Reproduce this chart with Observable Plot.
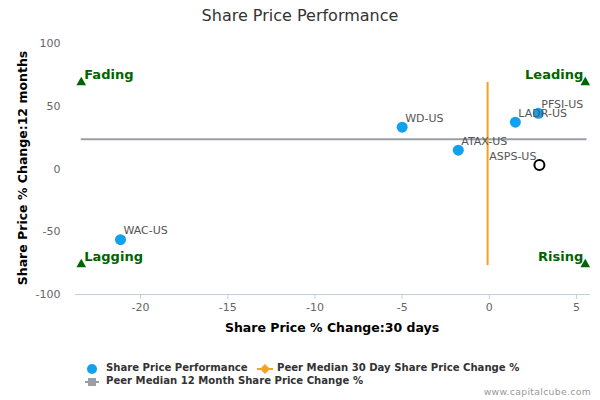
<!DOCTYPE html>
<html>
<head>
<meta charset="utf-8">
<script src="https://cdn.jsdelivr.net/npm/d3@7"></script>
<script src="https://cdn.jsdelivr.net/npm/@observablehq/plot@0.6"></script>
<style>
  body { margin: 0; background: #fff; font-family: "DejaVu Sans", sans-serif; }
  #wrap { position: relative; width: 600px; height: 400px; overflow: hidden; }
  #chart { position: absolute; left: 0; top: 0; }
  .title { position: absolute; top: 6px; left: 0; width: 600px; text-align: center; font-size: 16px; color: #333; }
  .ylab { position: absolute; left: 22px; top: 168px; transform: translate(-50%, -50%) rotate(-90deg); white-space: nowrap; font-size: 12.5px; font-weight: bold; color: #000; }
  .xlab { position: absolute; top: 320px; left: 332px; transform: translateX(-50%); white-space: nowrap; font-size: 12.5px; font-weight: bold; color: #000; }
  .leg { position: absolute; font-size: 10.1px; font-weight: bold; color: #333; white-space: nowrap; }
  .wm { position: absolute; right: 9px; top: 386px; font-size: 9.3px; color: #999; letter-spacing: 0.3px; }
</style>
</head>
<body>
<div id="wrap">
  <div id="chart"></div>
  <div class="title">Share Price Performance</div>
  <div class="ylab">Share Price % Change:12 months</div>
  <div class="xlab">Share Price % Change:30 days</div>
  <svg id="legsvg" width="600" height="400" style="position:absolute;left:0;top:0;pointer-events:none">
    <circle cx="92" cy="369" r="5" fill="#12A1EC"></circle>
    <line x1="257" x2="273" y1="369" y2="369" stroke="#F7A21B" stroke-width="2"></line>
    <path d="M265,364 L270,369 L265,374 L260,369 Z" fill="#F7A21B"></path>
    <line x1="85" x2="99" y1="382" y2="382" stroke="#9A9EA8" stroke-width="2"></line>
    <rect x="88" y="378" width="8" height="8" fill="#9A9EA8"></rect>
  </svg>
  <div class="leg" style="left:106px;top:362px">Share Price Performance</div>
  <div class="leg" style="left:277px;top:362px">Peer Median 30 Day Share Price Change %</div>
  <div class="leg" style="left:106px;top:375px">Peer Median 12 Month Share Price Change %</div>
  <div class="wm">www.capitalcube.com</div>
</div>
<script>
// Data
const tickers = ["WAC-US", "WD-US", "ATAX-US", "LADR-US", "PFSI-US", "ASPS-US"];
const change30d = [-21.15, -5.0, -1.78, 1.49, 2.81, 2.87];
const change12m = [-56.3, 33.3, 15.0, 37.3, 44.4, 3.2];
const highlighted = "ASPS-US";

const peerMedian30d = -0.1;
const peerMedian12m = 23.8;

const quadrantNames = ["Fading", "Leading", "Lagging", "Rising"];
const quadrantX = [-23.4, 5.5, -23.4, 5.5];
const quadrantY = [69, 69, -76, -76];

const xTicks = [-20, -15, -10, -5, 0, 5];
const yTicks = [-100, -50, 0, 50, 100];
const xDomain = [-23.73, 5.8];
const yDomain = [-100, 100];

const points = tickers.map((t, i) => ({ticker: t, x: change30d[i], y: change12m[i]}));
const quads = quadrantNames.map((q, i) => ({name: q, x: quadrantX[i], y: quadrantY[i], right: quadrantX[i] > 0}));
const others = points.filter(d => d.ticker !== highlighted);
const hi = points.filter(d => d.ticker === highlighted);
const fmt = d => String(d);

const chart = Plot.plot({
  width: 600,
  height: 400,
  marginLeft: 75,
  marginRight: 10,
  marginTop: 43,
  marginBottom: 106,
  style: {fontFamily: "DejaVu Sans, sans-serif", background: "transparent"},
  x: {domain: xDomain, ticks: xTicks, tickFormat: fmt, label: null},
  y: {domain: yDomain, ticks: yTicks, tickFormat: fmt, label: null},
  marks: [
    Plot.ruleY([yDomain[0]], {stroke: "#C0D0E0", strokeWidth: 1}),
    Plot.axisX({ticks: xTicks, tickFormat: fmt, tickSize: 5, stroke: "#C0D0E0", strokeOpacity: 1, fill: "#666", fontSize: 11, tickPadding: 4, label: null}),
    Plot.axisY({ticks: yTicks, tickFormat: fmt, tickSize: 0, tickPadding: 15, fill: "#666", fontSize: 11, label: null}),
    Plot.ruleY([peerMedian12m], {x1: quadrantX[0], x2: 5.6, stroke: "#9A9EA8", strokeWidth: 2}),
    Plot.ruleX([peerMedian30d], {y1: quadrantY[2] - 1, y2: quadrantY[0], stroke: "#F7A21B", strokeWidth: 2}),
    Plot.dot(quads, {x: "x", y: "y", symbol: "triangle", r: 3.6, fill: "#006400"}),
    Plot.text(quads.filter(d => !d.right), {x: "x", y: "y", text: "name", textAnchor: "start", dx: 3, dy: -8, fill: "#006400", fontWeight: "bold", fontSize: 13, style: "letter-spacing:0.6px"}),
    Plot.text(quads.filter(d => d.right), {x: "x", y: "y", text: "name", textAnchor: "end", dx: -2, dy: -8, fill: "#006400", fontWeight: "bold", fontSize: 13, style: "letter-spacing:0.6px"}),
    Plot.dot(others, {x: "x", y: "y", r: 5.5, fill: "#12A1EC"}),
    Plot.dot(hi, {x: "x", y: "y", r: 5, fill: "#fff", stroke: "#000", strokeWidth: 2}),
    Plot.text(others, {x: "x", y: "y", text: "ticker", textAnchor: "start", dx: 3, dy: -9, fill: "#555", fontSize: 11}),
    Plot.text(hi, {x: "x", y: "y", text: "ticker", textAnchor: "end", dx: -3, dy: -9, fill: "#555", fontSize: 11})
  ]
});
document.getElementById("chart").appendChild(chart);
</script>
</body>
</html>
